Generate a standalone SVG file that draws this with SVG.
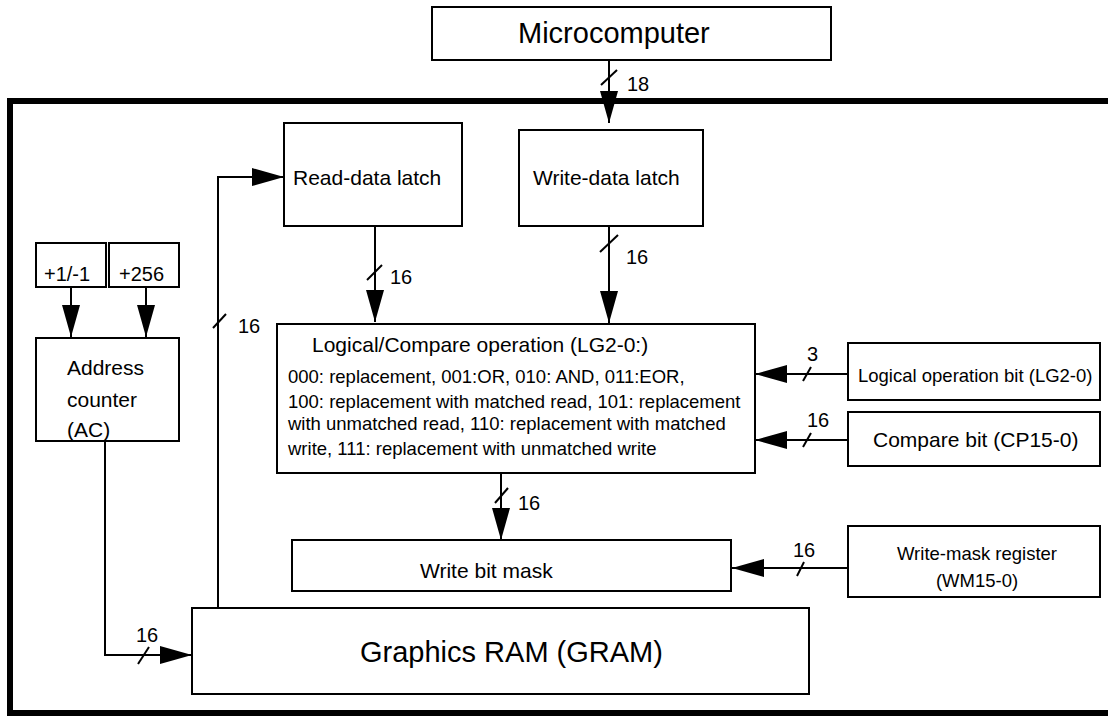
<svg xmlns="http://www.w3.org/2000/svg" width="1108" height="716" viewBox="0 0 1108 716">
<defs>
<marker id="ah" markerUnits="userSpaceOnUse" markerWidth="32" markerHeight="18" refX="32" refY="9" orient="auto">
<path d="M0,0 L32,9 L0,18 z" fill="#000"/>
</marker>
<style>
.box{fill:#fff;stroke:#000;stroke-width:2}
.t{font-family:"Liberation Sans",Arial,sans-serif;fill:#000}
.big{font-size:29px}
.mid{font-size:21px}
.sm{font-size:18.5px}
.lbl{font-size:20px}
.wire{fill:none;stroke:#000;stroke-width:2}
.arr{fill:none;stroke:#000;stroke-width:2;marker-end:url(#ah)}
.tick{stroke:#000;stroke-width:2}
</style>
</defs>
<rect width="1108" height="716" fill="#fff"/>
<path d="M1120,101 H10 V713 H1120" fill="none" stroke="#000" stroke-width="6"/>

<g id="microcomputer">
<rect class="box" x="432" y="7" width="399" height="53"/>
<text class="t big" x="518" y="43">Microcomputer</text>
</g>
<g id="read-data-latch">
<rect class="box" x="284" y="123" width="178" height="103"/>
<text class="t mid" x="293" y="185">Read-data latch</text>
</g>
<g id="write-data-latch">
<rect class="box" x="519" y="130" width="184" height="96"/>
<text class="t mid" x="533" y="185">Write-data latch</text>
</g>
<g id="inc">
<rect class="box" x="36" y="243" width="70" height="44"/>
<text class="t lbl" x="44" y="281">+1/-1</text>
</g>
<g id="inc256">
<rect class="box" x="109" y="243" width="70" height="44"/>
<text class="t lbl" x="119" y="281">+256</text>
</g>
<g id="address-counter">
<rect class="box" x="36" y="338" width="143" height="103"/>
<text class="t mid" x="67" y="375">Address</text>
<text class="t mid" x="67" y="407">counter</text>
<text class="t mid" x="67" y="437">(AC)</text>
</g>
<g id="logical-compare">
<rect class="box" x="277" y="324" width="478" height="149"/>
<text class="t mid" x="312" y="352">Logical/Compare operation (LG2-0:)</text>
<text class="t sm" x="288" y="383">000: replacement, 001:OR, 010: AND, 011:EOR,</text>
<text class="t sm" x="288" y="408">100: replacement with matched read, 101: replacement</text>
<text class="t sm" x="288" y="430">with unmatched read, 110: replacement with matched</text>
<text class="t sm" x="288" y="455">write, 111: replacement with unmatched write</text>
</g>
<g id="logical-operation-bit">
<rect class="box" x="848" y="343" width="252" height="57"/>
<text class="t sm" x="858" y="382">Logical operation bit (LG2-0)</text>
</g>
<g id="compare-bit">
<rect class="box" x="848" y="412" width="252" height="54"/>
<text class="t mid" x="873" y="447">Compare bit (CP15-0)</text>
</g>
<g id="write-bit-mask">
<rect class="box" x="292" y="540" width="439" height="51"/>
<text class="t mid" x="420" y="578">Write bit mask</text>
</g>
<g id="write-mask-register">
<rect class="box" x="848" y="526" width="252" height="71"/>
<text class="t sm" x="977" y="560" text-anchor="middle">Write-mask register</text>
<text class="t sm" x="977" y="587" text-anchor="middle">(WM15-0)</text>
</g>
<g id="gram">
<rect class="box" x="192" y="608" width="617" height="86"/>
<text class="t big" x="360" y="662">Graphics RAM (GRAM)</text>
</g>

<g id="connectors">
<path class="arr" d="M609,60 V123"/>
<line class="tick" x1="601" y1="85" x2="617" y2="70"/>
<text class="t lbl" x="627" y="91">18</text>

<path class="arr" d="M375,226 V322"/>
<line class="tick" x1="367" y1="280" x2="382" y2="265"/>
<text class="t lbl" x="390" y="284">16</text>

<path class="arr" d="M609,226 V323"/>
<line class="tick" x1="600" y1="252" x2="618" y2="235"/>
<text class="t lbl" x="626" y="264">16</text>

<path class="arr" d="M71,287 V337"/>
<path class="arr" d="M146,287 V337"/>

<path class="arr" d="M105,441 V655 H192"/>
<line class="tick" x1="138" y1="664" x2="149" y2="647"/>
<text class="t lbl" x="136" y="642">16</text>

<path class="arr" d="M218,608 V177 H284"/>
<line class="tick" x1="213" y1="328" x2="226" y2="314"/>
<text class="t lbl" x="238" y="333">16</text>

<path class="arr" d="M848,374 H755"/>
<line class="tick" x1="803" y1="381" x2="811" y2="367"/>
<text class="t lbl" x="807" y="361">3</text>

<path class="arr" d="M848,440 H755"/>
<line class="tick" x1="803" y1="447" x2="811" y2="433"/>
<text class="t lbl" x="807" y="427">16</text>

<path class="arr" d="M501,473 V540"/>
<line class="tick" x1="495" y1="503" x2="508" y2="488"/>
<text class="t lbl" x="518" y="510">16</text>

<path class="arr" d="M848,568 H732"/>
<line class="tick" x1="797" y1="576" x2="804" y2="562"/>
<text class="t lbl" x="793" y="557">16</text>
</g>
</svg>
